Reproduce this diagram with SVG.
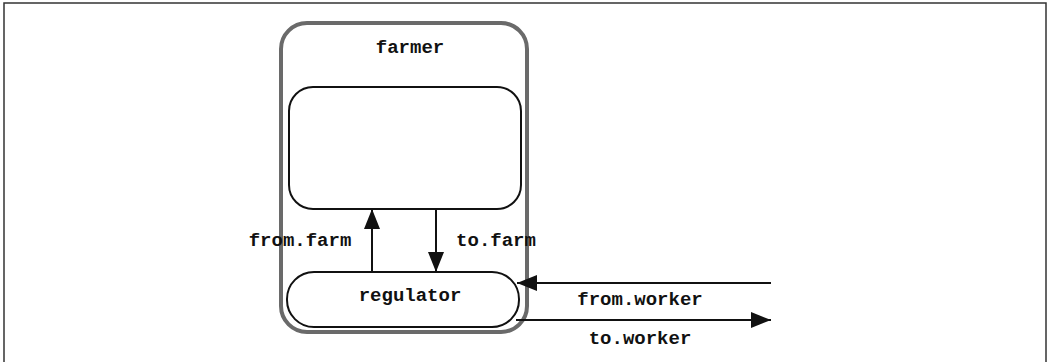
<svg xmlns="http://www.w3.org/2000/svg" width="1051" height="362" viewBox="0 0 1051 362">
<style>
text{font-family:"Liberation Mono","Courier New",monospace;font-weight:bold;font-size:19px;fill:#111}
.box{fill:#fff;stroke:#111;stroke-width:2}
.conn{stroke:#111;stroke-width:2;fill:none}
</style>
<defs>
<marker id="ahw" viewBox="0 0 10 10" refX="10" refY="5" markerWidth="20" markerHeight="16" markerUnits="userSpaceOnUse" orient="auto" preserveAspectRatio="none">
<path d="M0,0 L10,5 L0,10 z" fill="#111"/>
</marker>
</defs>
<rect width="1051" height="362" fill="#fff"/>
<g id="frame" fill="none" stroke="#333" stroke-width="1.5">
<path d="M4,362 V3 H1046 V362"/>
</g>
<g id="farmer">
<rect x="281" y="23" width="246" height="309" rx="26" fill="#fff" stroke="#6a6a6a" stroke-width="4"/>
<text x="410" y="53" text-anchor="middle">farmer</text>
</g>
<g id="farm">
<rect class="box" x="289" y="87" width="232" height="122" rx="24"/>
</g>
<g id="regulator">
<rect class="box" x="287" y="272" width="232" height="55" rx="27"/>
<text x="410" y="301" text-anchor="middle">regulator</text>
</g>
<g id="connectors">
<line class="conn" x1="372" y1="272" x2="372" y2="209" marker-end="url(#ahw)"/>
<line class="conn" x1="436" y1="209" x2="436" y2="272" marker-end="url(#ahw)"/>
<line class="conn" x1="771" y1="283" x2="517" y2="283" marker-end="url(#ahw)"/>
<line class="conn" x1="516" y1="320" x2="771" y2="320" marker-end="url(#ahw)"/>
<text x="300" y="246" text-anchor="middle">from.farm</text>
<text x="496" y="246" text-anchor="middle">to.farm</text>
<text x="640" y="305" text-anchor="middle">from.worker</text>
<text x="640" y="344" text-anchor="middle">to.worker</text>
</g>
</svg>
